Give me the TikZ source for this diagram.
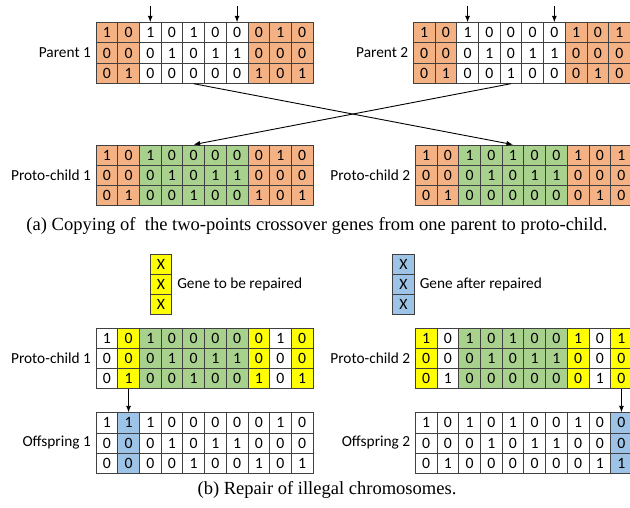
\documentclass[tikz,border=0pt]{standalone}
\usepackage{fontspec}
\setmainfont{Carlito}
\newfontfamily\capfont{Liberation Serif}
\usetikzlibrary{positioning, arrows.meta}

\definecolor{orng}{HTML}{F4B183}
\definecolor{grn}{HTML}{A9D18E}
\definecolor{ylw}{HTML}{FFFF00}
\definecolor{blu}{HTML}{9DC3E6}
\definecolor{edge}{HTML}{404040}

\def\cellw{21.7}
\def\cellh{20.2}

% chromosome: name, left x, top y, column colours, row 1, row 2, row 3
\newcommand{\chrom}[7]{%
  \foreach \c [count=\j] in {#4}
    \fill[\c] ({#2+(\j-1)*\cellw}, #3) rectangle ++(\cellw, 3*\cellh);
  \foreach \v [count=\j] in {#5}
    \node[gene] (#1-1-\j) at ({#2+(\j-0.5)*\cellw}, {#3+0.5*\cellh}) {\v};
  \foreach \v [count=\j] in {#6}
    \node[gene] (#1-2-\j) at ({#2+(\j-0.5)*\cellw}, {#3+1.5*\cellh}) {\v};
  \foreach \v [count=\j] in {#7}
    \node[gene] (#1-3-\j) at ({#2+(\j-0.5)*\cellw}, {#3+2.5*\cellh}) {\v};
}

\begin{document}
\begin{tikzpicture}[x=1bp, y=-1bp,
    gene/.style={draw=edge, line width=0.8bp, minimum width=21.7bp,
      minimum height=20.2bp, inner sep=0pt, font=\fontsize{15.8}{16}\selectfont},
    lbl/.style={inner sep=0pt, font=\fontsize{15.4}{16}\selectfont},
    caption/.style={inner sep=0pt, font=\capfont\fontsize{18.6}{20}\selectfont},
    conn/.style={-{Latex[length=6.5bp, width=5bp]}, line width=0.9bp}]
  \useasboundingbox (0,0) rectangle (630,508);

  % (a) crossover
  \chrom{p1}{96}{22.7}{orng,orng,white,white,white,white,white,orng,orng,orng}
    {1,0,1,0,1,0,0,0,1,0}{0,0,0,1,0,1,1,0,0,0}{0,1,0,0,0,0,0,1,0,1}
  \chrom{p2}{413.3}{22.7}{orng,orng,white,white,white,white,white,orng,orng,orng}
    {1,0,1,0,0,0,0,1,0,1}{0,0,0,1,0,1,1,0,0,0}{0,1,0,0,1,0,0,0,1,0}
  \chrom{pc1}{96}{145}{orng,orng,grn,grn,grn,grn,grn,orng,orng,orng}
    {1,0,1,0,0,0,0,0,1,0}{0,0,0,1,0,1,1,0,0,0}{0,1,0,0,1,0,0,1,0,1}
  \chrom{pc2}{415.3}{145}{orng,orng,grn,grn,grn,grn,grn,orng,orng,orng}
    {1,0,1,0,1,0,0,1,0,1}{0,0,0,1,0,1,1,0,0,0}{0,1,0,0,0,0,0,0,1,0}

  \node[lbl, left=4.5bp of p1-2-1] (p1-lbl) {Parent 1};
  \node[lbl, left=4.5bp of p2-2-1] (p2-lbl) {Parent 2};
  \node[lbl, left=4.5bp of pc1-2-1] (pc1-lbl) {Proto-child 1};
  \node[lbl, left=4.5bp of pc2-2-1] (pc2-lbl) {Proto-child 2};

  % cut points
  \coordinate[above=16bp of p1-1-3] (p1-cut1);
  \coordinate[above=16bp of p1-1-7] (p1-cut2);
  \coordinate[above=16bp of p2-1-3] (p2-cut1);
  \coordinate[above=16bp of p2-1-7] (p2-cut2);
  \draw[conn] (p1-cut1) -- (p1-1-3);
  \draw[conn] (p1-cut2) -- (p1-1-7);
  \draw[conn] (p2-cut1) -- (p2-1-3);
  \draw[conn] (p2-cut2) -- (p2-1-7);

  \draw[conn] (p1-3-5.south) -- (pc2-1-5.north);
  \draw[conn] (p2-3-5.south) -- (pc1-1-5.north);

  \node[caption] (cap-a) at (317,226)
    {(a) Copying of~ the two-points crossover genes from one parent to proto-child.};

  % (b) repair
  \chrom{rep}{150}{254}{ylw}{X}{X}{X}
  \chrom{fix}{392.5}{254}{blu}{X}{X}{X}
  \node[lbl, right=5bp of rep-2-1] (rep-lbl) {Gene to be repaired};
  \node[lbl, right=5bp of fix-2-1] (fix-lbl) {Gene after repaired};

  \chrom{rc1}{96}{328}{white,ylw,grn,grn,grn,grn,grn,ylw,white,ylw}
    {1,0,1,0,0,0,0,0,1,0}{0,0,0,1,0,1,1,0,0,0}{0,1,0,0,1,0,0,1,0,1}
  \chrom{rc2}{415.3}{328}{ylw,white,grn,grn,grn,grn,grn,ylw,white,ylw}
    {1,0,1,0,1,0,0,1,0,1}{0,0,0,1,0,1,1,0,0,0}{0,1,0,0,0,0,0,0,1,0}
  \chrom{of1}{96}{412.7}{white,blu,white,white,white,white,white,white,white,white}
    {1,1,1,0,0,0,0,0,1,0}{0,0,0,1,0,1,1,0,0,0}{0,0,0,0,1,0,0,1,0,1}
  \chrom{of2}{415.3}{412.7}{white,white,white,white,white,white,white,white,white,blu}
    {1,0,1,0,1,0,0,1,0,0}{0,0,0,1,0,1,1,0,0,0}{0,1,0,0,0,0,0,0,1,1}

  \node[lbl, left=4.5bp of rc1-2-1] (rc1-lbl) {Proto-child 1};
  \node[lbl, left=4.5bp of rc2-2-1] (rc2-lbl) {Proto-child 2};
  \node[lbl, left=4.5bp of of1-2-1] (of1-lbl) {Offspring 1};
  \node[lbl, left=4.5bp of of2-2-1] (of2-lbl) {Offspring 2};

  \draw[conn] (rc1-3-2) -- (of1-1-2);
  \draw[conn] (rc2-3-10) -- (of2-1-10);

  \node[caption] (cap-b) at (327,490) {(b) Repair of illegal chromosomes.};
\end{tikzpicture}
\end{document}
